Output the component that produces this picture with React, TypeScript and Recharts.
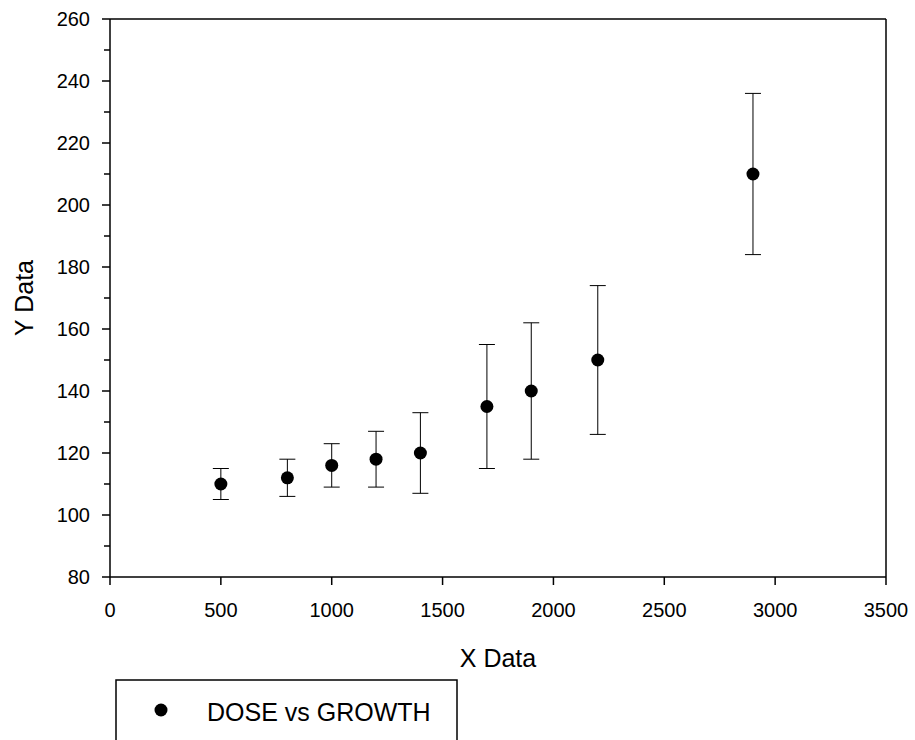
import React from "react";
import {
  ErrorBar,
  ReferenceLine,
  Scatter,
  ScatterChart,
  XAxis,
  YAxis,
} from "recharts";

// DOSE vs GROWTH, mean with symmetric error
const doses = [500, 800, 1000, 1200, 1400, 1700, 1900, 2200, 2900];
const growth = [110, 112, 116, 118, 120, 135, 140, 150, 210];
const growthErr = [5, 6, 7, 9, 13, 20, 22, 24, 26];

const xTicks = [0, 500, 1000, 1500, 2000, 2500, 3000, 3500];
const yTicks = [80, 90, 100, 110, 120, 130, 140, 150, 160, 170, 180, 190, 200, 210, 220, 230, 240, 250, 260];

const seriesName = "DOSE vs GROWTH";

const data = doses.map((x, i) => ({ x, y: growth[i], err: growthErr[i] }));

const FONT = "'Liberation Sans', Arial, sans-serif";

function YTick(props: any) {
  const { x, y, payload } = props;
  const major = payload.value % 20 === 0;
  return (
    <g>
      <line x1={x - (major ? 8 : 6)} x2={x} y1={y} y2={y} stroke="#000" strokeWidth={1.5} />
      {major && (
        <text
          x={x - 20}
          y={y}
          dy="0.355em"
          textAnchor="end"
          fontSize={20}
          fontFamily={FONT}
          fill="#000"
        >
          {payload.value}
        </text>
      )}
    </g>
  );
}

function YLabel(props: any) {
  const { viewBox } = props;
  const cy = viewBox.y + viewBox.height / 2;
  const bx = 33;
  return (
    <text
      x={bx}
      y={cy}
      transform={`rotate(-90 ${bx} ${cy})`}
      textAnchor="middle"
      fontSize={25}
      fontFamily={FONT}
      fill="#000"
    >
      Y Data
    </text>
  );
}

function Dot(props: any) {
  const { cx, cy } = props;
  return <circle cx={cx} cy={cy} r={6.5} fill="#000" />;
}

export default function App() {
  return (
    <div
      style={{
        position: "absolute",
        left: 0,
        top: 0,
        width: 915,
        height: 740,
        overflow: "hidden",
        background: "#fff",
      }}
    >
      <ScatterChart
        width={915}
        height={740}
        margin={{ top: 19, right: 29, left: 0, bottom: 73 }}
      >
        <XAxis
          type="number"
          dataKey="x"
          domain={[0, 3500]}
          ticks={xTicks}
          interval={0}
          height={90}
          tickSize={8}
          tickMargin={18}
          stroke="#000"
          strokeWidth={1.5}
          tick={{ fontSize: 20, fontFamily: FONT, fill: "#000" }}
          label={{
            value: "X Data",
            position: "insideBottom",
            offset: 0,
            fontSize: 25,
            fontFamily: FONT,
            fill: "#000",
          }}
        />
        <YAxis
          type="number"
          dataKey="y"
          domain={[80, 260]}
          ticks={yTicks}
          interval={0}
          width={110}
          tickSize={0}
          tickMargin={0}
          tickLine={false}
          stroke="#000"
          strokeWidth={1.5}
          tick={<YTick />}
          label={<YLabel />}
        />
        <ReferenceLine y={260} stroke="#000" strokeWidth={1.5} />
        <ReferenceLine x={3500} stroke="#000" strokeWidth={1.5} />
        <Scatter
          name={seriesName}
          data={data}
          shape={<Dot />}
          isAnimationActive={false}
        >
          <ErrorBar
            dataKey="err"
            direction="y"
            width={8}
            stroke="#000"
            strokeWidth={1}
            isAnimationActive={false}
          />
        </Scatter>
      </ScatterChart>
      <svg
        width={345}
        height={70}
        style={{ position: "absolute", left: 115, top: 679 }}
      >
        <rect x={1} y={1} width={341} height={100} fill="#fff" stroke="#000" strokeWidth={1.5} />
        <circle cx={46} cy={31} r={6.5} fill="#000" />
        <text x={92} y={42} fontSize={25} fontFamily={FONT} fill="#000">
          {seriesName}
        </text>
      </svg>
    </div>
  );
}
